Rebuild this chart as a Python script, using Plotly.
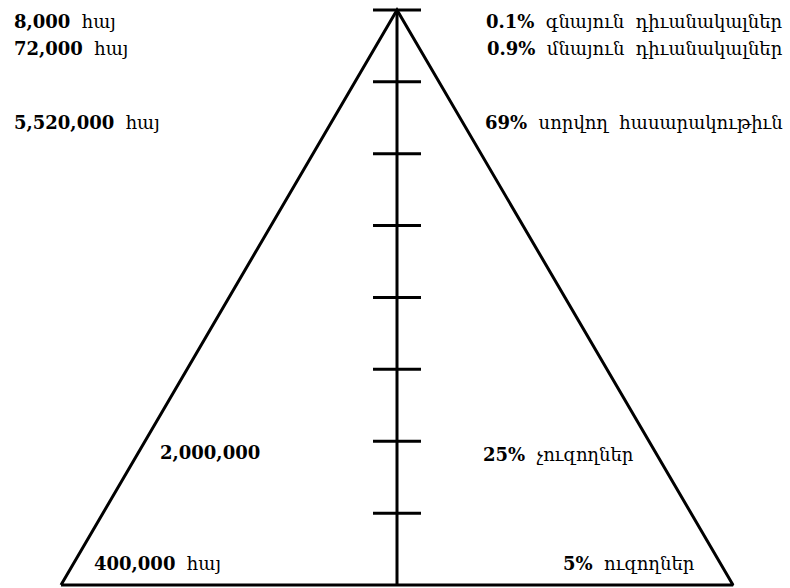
import plotly.graph_objects as go

# Pyramid levels (tick marks along the central axis)
tick_levels = [1, 2, 3, 4, 5, 6, 7, 8]
apex_level = 8

left_labels = ["8,000 հայ", "72,000 հայ", "5,520,000 հայ", "2,000,000", "400,000 հայ"]
right_labels = ["0.1% գնայուն դիւանակալներ", "0.9% մնայուն դիւանակալներ",
                "69% սորվող հասարակութիւն", "25% չուզողներ", "5% ուզողներ"]

# label placement (x in half-base units, y in levels)
left_pos = [(-1.146, 7.833, "left"), (-1.146, 7.471, "left"), (-1.146, 6.428, "left"),
            (-0.711, 1.837, "left"), (-0.908, 0.306, "left")]
right_pos = [(1.155, 7.833, "right"), (1.155, 7.471, "right"), (1.155, 6.428, "right"),
             (0.25, 1.81, "left"), (0.893, 0.306, "right")]

tick_half = 0.0714
FONT = "DejaVu Serif"


def fmt(label):
    parts = label.split(" ", 1)
    s = "<b>" + parts[0] + "</b>"
    if len(parts) > 1:
        s += "  " + parts[1].replace(" ", "  ")
    return s


fig = go.Figure()
# triangle
fig.add_trace(go.Scatter(x=[-1, 0, 1, -1], y=[0, apex_level, 0, 0], mode="lines",
                         line=dict(color="black", width=3), hoverinfo="skip"))
# central axis
fig.add_trace(go.Scatter(x=[0, 0], y=[0, apex_level], mode="lines",
                         line=dict(color="black", width=3), hoverinfo="skip"))
# ticks
tx, ty = [], []
for lv in tick_levels:
    tx += [-tick_half, tick_half, None]
    ty += [lv, lv, None]
fig.add_trace(go.Scatter(x=tx, y=ty, mode="lines",
                         line=dict(color="black", width=3), hoverinfo="skip"))

anns = []
for txt, (x, y, anc) in zip(left_labels + right_labels, left_pos + right_pos):
    anns.append(dict(x=x, y=y, xref="x", yref="y", text=fmt(txt), showarrow=False,
                     xanchor=anc, yanchor="middle",
                     font=dict(family=FONT, size=18, color="black")))

fig.update_layout(
    width=790, height=588, margin=dict(l=0, r=0, t=0, b=0),
    paper_bgcolor="white", plot_bgcolor="white", showlegend=False,
    annotations=anns,
    xaxis=dict(range=[-1.1815, 1.1696], visible=False, fixedrange=True),
    yaxis=dict(range=[-0.0417, 8.139], visible=False, fixedrange=True),
)
fig.write_html("out.html", config={"displayModeBar": False},
               post_script="document.body.style.margin='0';document.body.style.overflow='hidden';")
